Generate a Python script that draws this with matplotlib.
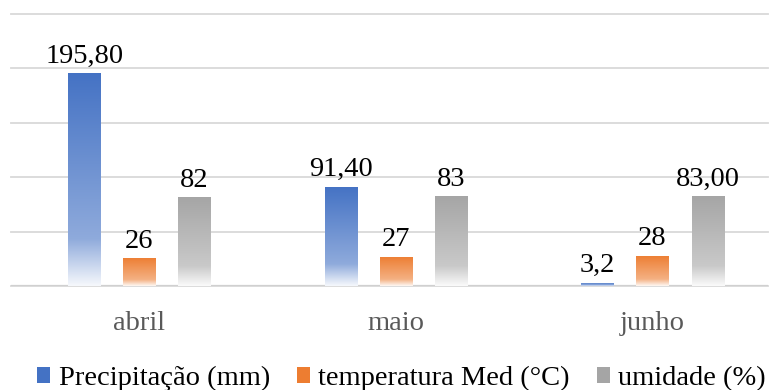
import numpy as np
import matplotlib
matplotlib.use("Agg")
import matplotlib.pyplot as plt
from matplotlib.colors import to_rgb
from matplotlib.patches import Patch

# dados
meses = ["abril", "maio", "junho"]
series = ["Precipitação (mm)", "temperatura Med (°C)", "umidade (%)"]
precipitacao = [195.8, 91.4, 3.2]
temperatura = [26, 27, 28]
umidade = [82, 83, 83]
rotulos = [
    ["195,80", "91,40", "3,2"],
    ["26", "27", "28"],
    ["82", "83", "83,00"],
]
cores = ["#4472C4", "#ED7D31", "#A5A5A5"]

plt.rcParams["font.family"] = ["Liberation Serif", "DejaVu Serif"]

fig = plt.figure(figsize=(7.69, 3.90), dpi=100)
ax = fig.add_axes([11 / 769, 104 / 390, 757 / 769, 272 / 390])


def gradiente(cor, n=256):
    # topo = cor cheia, clareia devagar e depois some no branco perto da base
    t = np.linspace(0, 1, n)
    w = np.where(t < 0.78, 0.40 * t / 0.78, 0.40 + (t - 0.78) / 0.22 * 0.55)
    c = np.array(to_rgb(cor))
    rgb = c[None, :] * (1 - w[:, None]) + w[:, None]
    return rgb[:, None, :]


x = np.arange(len(meses))
larg = 0.125
desloc = 0.2144
valores = [precipitacao, temperatura, umidade]

for i, (vals, cor) in enumerate(zip(valores, cores)):
    pos = x + (i - 1) * desloc
    barras = ax.bar(pos, vals, width=larg, color="none", edgecolor="none", zorder=3)
    img = gradiente(cor)
    for b, lab in zip(barras, rotulos[i]):
        x0, h = b.get_x(), b.get_height()
        im = ax.imshow(img, extent=[x0, x0 + larg, 0, h], origin="upper",
                       aspect="auto", zorder=3, interpolation="bilinear")
        im.set_clip_path(b)
        ax.annotate(lab, xy=(x0 + larg / 2, h), xytext=(0, 3),
                    textcoords="offset points", ha="center", va="bottom",
                    fontsize=20.5, color="black", zorder=4)

ax.set_xlim(-0.5, 2.45)
ax.set_ylim(0, 250)
ax.set_yticks([0, 50, 100, 150, 200, 250])
ax.set_yticklabels([])
ax.tick_params(axis="y", length=0)
ax.grid(axis="y", color="#d9d9d9", linewidth=1.3, zorder=0)
ax.set_axisbelow(True)
for s in ax.spines.values():
    s.set_visible(False)
ax.axhline(0, color="#d0d0d0", linewidth=1.6, zorder=2)
for gl in ax.get_ygridlines():
    gl.set_clip_on(False)

ax.set_xticks(x)
ax.set_xticklabels(meses, fontsize=20.5, color="#595959")
ax.tick_params(axis="x", length=0, pad=18)

handles = [Patch(facecolor=c, edgecolor="none") for c in cores]
fig.legend(handles, series, loc="center", bbox_to_anchor=(0.522, 0.03),
           ncol=3, frameon=False, fontsize=20.5, handlelength=0.45,
           handleheight=0.5, handletextpad=0.3, columnspacing=0.95,
           borderaxespad=0, borderpad=0)

fig.savefig("out.png", dpi=100)
